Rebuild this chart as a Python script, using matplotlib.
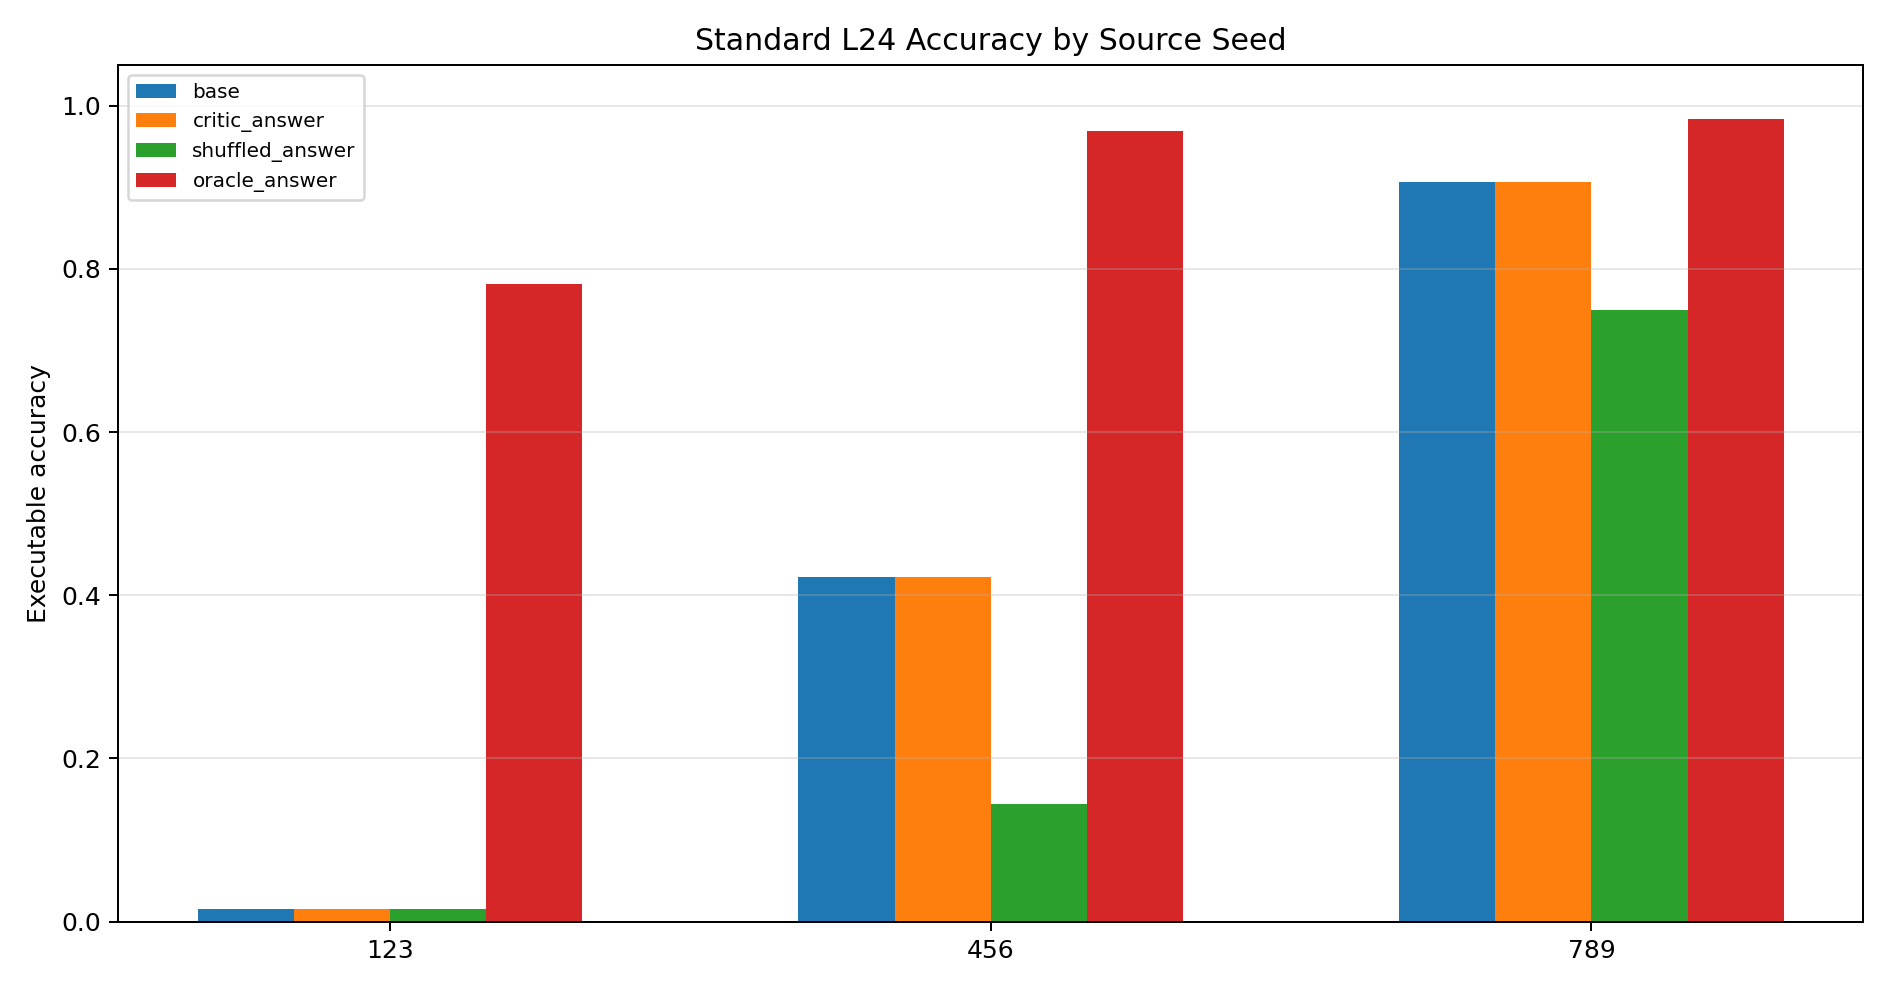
import numpy as np
import matplotlib
matplotlib.use("Agg")
import matplotlib.pyplot as plt

seeds = ["123", "456", "789"]
conditions = ["base", "critic_answer", "shuffled_answer", "oracle_answer"]
base = [0.015625, 0.421875, 0.90625]
critic_answer = [0.015625, 0.421875, 0.90625]
shuffled_answer = [0.015625, 0.1445, 0.75]
oracle_answer = [0.78125, 0.96875, 0.984375]

series = [base, critic_answer, shuffled_answer, oracle_answer]

fig, ax = plt.subplots(figsize=(10.5, 5.5), dpi=180)
x = np.arange(len(seeds))
width = 0.16
for i, (name, vals) in enumerate(zip(conditions, series)):
    ax.bar(x + (i - 1.5) * width, vals, width, label=name)

ax.set_xticks(x)
ax.set_xticklabels(seeds)
ax.set_ylim(0, 1.05)
ax.set_ylabel("Executable accuracy")
ax.set_title("Standard L24 Accuracy by Source Seed")
ax.grid(axis="y", alpha=0.3)
ax.legend(fontsize=8, loc="upper left")

plt.tight_layout()
plt.savefig("out.png", dpi=180)
